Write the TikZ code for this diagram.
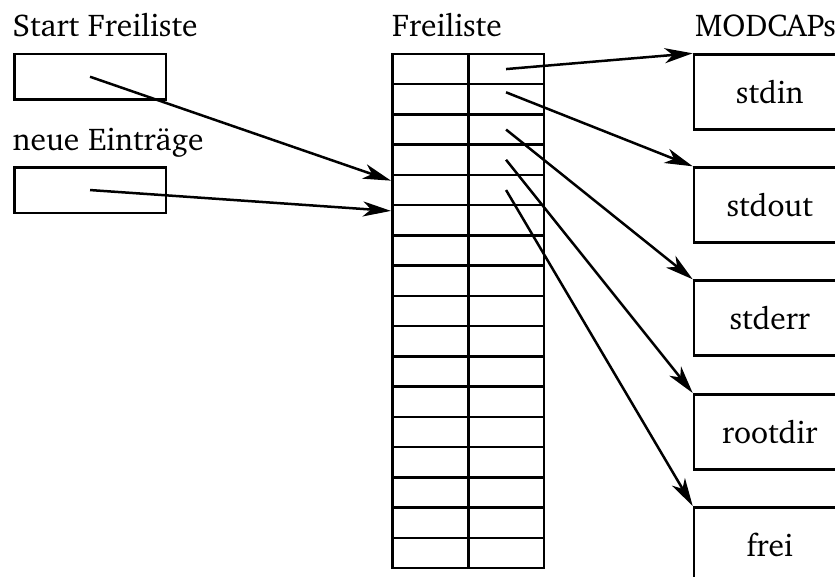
\documentclass[tikz,border=0pt]{standalone}
\usepackage[T1]{fontenc}
\usepackage{charter}
\usetikzlibrary{arrows.meta}
\tikzset{
  lw/.style={line width=2.5pt},
  box/.style={draw, lw, minimum width=151.6pt, minimum height=75pt, inner sep=0pt, anchor=north west},
  smallbox/.style={draw, lw, minimum width=151.6pt, minimum height=45.6pt, inner sep=0pt, anchor=north west},
  cell/.style={draw, lw, minimum width=76pt, minimum height=30.24pt, inner sep=0pt, anchor=north west},
  lbl/.style={anchor=base west, inner sep=0pt},
  arr/.style={lw, -{Stealth[length=28pt, width=15pt, inset=8pt]}},
}
\begin{document}
\begin{tikzpicture}[x=1pt, y=-1pt, font=\fontsize{31.5}{36}\selectfont]
\useasboundingbox (0,0) rectangle (835,576);
\clip (0,0) rectangle (835,576);
% labels
\node[lbl] (lstart) at (12.5,36.7) {Start Freiliste};
\node[lbl] (lneu) at (12.5,150) {neue Eintr\"age};
\node[lbl] (lfrei) at (392,36.7) {Freiliste};
\node[lbl] (lmod) at (695,36.7) {MODCAPs};
% left boxes
\node[smallbox] (sf) at (13,52.7) {};
\node[smallbox] (ne) at (13,166) {};
% table
\foreach \i in {1,...,17} {
  \node[cell] (l\i) at (391, {52.7+(\i-1)*30.24}) {};
  \node[cell] (r\i) at (466.8, {52.7+(\i-1)*30.24}) {};
}
% right boxes
\node[box] (stdin) at (692.7,53.3) {stdin};
\node[box] (stdout) at (692.7,166.3) {stdout};
\node[box] (stderr) at (692.7,279.3) {stderr};
\node[box] (rootdir) at (692.7,393) {rootdir};
\node[box] (frei) at (692.7,506) {frei};
% arrows
\coordinate (s2) at ([yshift=7pt]r2.center);
\draw[arr] (sf.center) -- ([yshift=-7pt]l5.north west);
\draw[arr] (ne.center) -- ([yshift=-7pt]l6.north west);
\draw[arr] (r1.center) -- (stdin.north west);
\draw[arr] (s2) -- (stdout.north west);
\draw[arr] (r3.center) -- (stderr.north west);
\draw[arr] (r4.center) -- (rootdir.north west);
\draw[arr] (r5.center) -- (frei.north west);
\end{tikzpicture}
\end{document}
